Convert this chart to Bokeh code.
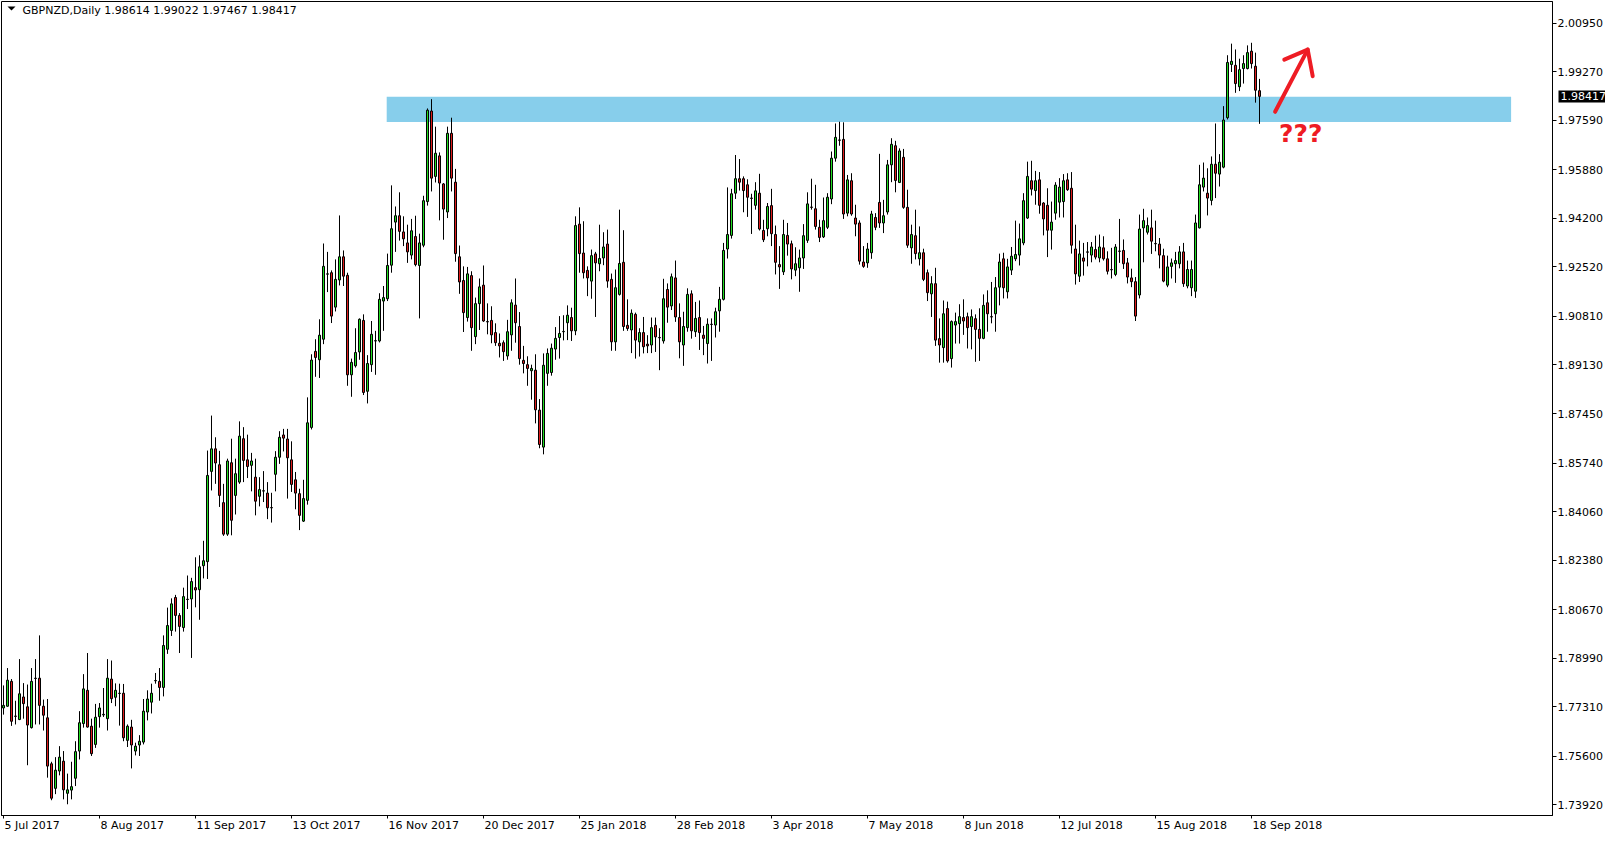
from bokeh.plotting import figure
from bokeh.models import (ColumnDataSource, Range1d, FixedTicker, PrintfTickFormatter,
                          Label, LinearAxis, PolyAnnotation)
from bokeh.core.properties import value
from bokeh.embed import file_html
from bokeh.resources import INLINE

symbol = "GBPNZD,Daily"

date_labels = ["5 Jul 2017", "8 Aug 2017", "11 Sep 2017", "13 Oct 2017", "16 Nov 2017",
               "20 Dec 2017", "25 Jan 2018", "28 Feb 2018", "3 Apr 2018", "7 May 2018",
               "8 Jun 2018", "12 Jul 2018", "15 Aug 2018", "18 Sep 2018"]
date_bars = [0, 24, 48, 72, 96, 120, 144, 168, 192, 216, 240, 264, 288, 312]

price_ticks = [2.00950, 1.99270, 1.97590, 1.95880, 1.94200, 1.92520, 1.90810, 1.89130,
               1.87450, 1.85740, 1.84060, 1.82380, 1.80670, 1.78990, 1.77310, 1.75600, 1.73920]

opens = [
    1.7727, 1.7733, 1.7819, 1.7699, 1.7687, 1.7765, 1.7731, 1.7659, 1.7830, 1.7830,
    1.7733, 1.7693, 1.7534, 1.7449, 1.7509, 1.7543, 1.7432, 1.7443, 1.7484, 1.7578,
    1.7673, 1.7788, 1.7664, 1.7601, 1.7697, 1.7703, 1.7690, 1.7827, 1.7764, 1.7777,
    1.7778, 1.7615, 1.7661, 1.7578, 1.7599, 1.7609, 1.7713, 1.7747, 1.7821, 1.7819,
    1.7798, 1.7930, 1.7995, 1.8109, 1.8047, 1.8005, 1.8103, 1.8104, 1.8143, 1.8136,
    1.8219, 1.8233, 1.8545, 1.8623, 1.8568, 1.8437, 1.8328, 1.8575, 1.8462, 1.8508,
    1.8658, 1.8585, 1.8566, 1.8525, 1.8459, 1.8478, 1.8470, 1.8420, 1.8535, 1.8594,
    1.8671, 1.8657, 1.8585, 1.8516, 1.8468, 1.8373, 1.8445, 1.8697, 1.8960, 1.8931,
    1.9002, 1.9227, 1.9232, 1.9113, 1.9207, 1.9287, 1.9223, 1.8879, 1.8910, 1.8958,
    1.9067, 1.8822, 1.8914, 1.8996, 1.8996, 1.9134, 1.9142, 1.9258, 1.9407, 1.9429,
    1.9373, 1.9335, 1.9293, 1.9357, 1.9257, 1.9327, 1.9478, 1.9791, 1.9565, 1.9636,
    1.9539, 1.9442, 1.9714, 1.9545, 1.9287, 1.9205, 1.9077, 1.9222, 1.9011, 1.9125,
    1.9189, 1.9063, 1.9067, 1.9025, 1.8988, 1.8990, 1.8944, 1.9017, 1.9120, 1.9046,
    1.8929, 1.8914, 1.8893, 1.8895, 1.8757, 1.8629, 1.8884, 1.8887, 1.8968, 1.9008,
    1.9028, 1.9059, 1.9077, 1.9031, 1.9400, 1.9300, 1.9240, 1.9203, 1.9297, 1.9263,
    1.9283, 1.9331, 1.9209, 1.8993, 1.9157, 1.9268, 1.9050, 1.9034, 1.9088, 1.8993,
    1.9025, 1.8985, 1.8982, 1.9050, 1.9008, 1.8996, 1.9174, 1.9117, 1.9214, 1.9077,
    1.8982, 1.9042, 1.9159, 1.9028, 1.9077, 1.9016, 1.8987, 1.9054, 1.9051, 1.9100,
    1.9140, 1.9314, 1.9361, 1.9507, 1.9557, 1.9557, 1.9536, 1.9490, 1.9465, 1.9507,
    1.9378, 1.9384, 1.9464, 1.9364, 1.9260, 1.9235, 1.9361, 1.9332, 1.9241, 1.9249,
    1.9283, 1.9344, 1.9459, 1.9453, 1.9389, 1.9356, 1.9389, 1.9487, 1.9628, 1.9691,
    1.9693, 1.9438, 1.9550, 1.9421, 1.9404, 1.9269, 1.9266, 1.9301, 1.9423, 1.9475,
    1.9404, 1.9442, 1.9605, 1.9671, 1.9544, 1.9631, 1.9458, 1.9318, 1.9360, 1.9280,
    1.9301, 1.9232, 1.9159, 1.9194, 1.9004, 1.8973, 1.9108, 1.8935, 1.9051, 1.9056,
    1.9077, 1.9080, 1.9046, 1.9073, 1.9036, 1.9005, 1.9128, 1.9080, 1.9090, 1.9182,
    1.9280, 1.9166, 1.9241, 1.9280, 1.9293, 1.9335, 1.9421, 1.9550, 1.9516, 1.9553,
    1.9473, 1.9465, 1.9379, 1.9438, 1.9476, 1.9478, 1.9553, 1.9524, 1.9314, 1.9220,
    1.9283, 1.9304, 1.9293, 1.9312, 1.9283, 1.9318, 1.9280, 1.9243, 1.9226, 1.9306,
    1.9309, 1.9266, 1.9214, 1.9201, 1.9155, 1.9387, 1.9372, 1.9387, 1.9333, 1.9331,
    1.9291, 1.9189, 1.9254, 1.9263, 1.9263, 1.9304, 1.9186, 1.9180, 1.9168, 1.9387,
    1.9528, 1.9507, 1.9482, 1.9607, 1.9573, 1.9597, 1.9768, 1.9952, 1.9949, 1.9875,
    1.9938, 1.9938, 1.9998, 1.9946, 1.98614]

highs = [
    1.7805, 1.7865, 1.7827, 1.7752, 1.7896, 1.7813, 1.7808, 1.7865, 1.7896, 1.7978,
    1.7756, 1.7758, 1.7541, 1.7557, 1.7595, 1.7578, 1.7500, 1.7541, 1.7612, 1.7716,
    1.7844, 1.7917, 1.7690, 1.7741, 1.7744, 1.7796, 1.7896, 1.7891, 1.7812, 1.7811,
    1.7810, 1.7670, 1.7686, 1.7607, 1.7633, 1.7758, 1.7788, 1.7811, 1.7848, 1.7865,
    1.7978, 1.8074, 1.8106, 1.8118, 1.8055, 1.8143, 1.8185, 1.8177, 1.8248, 1.8255,
    1.8305, 1.8617, 1.8738, 1.8663, 1.8616, 1.8502, 1.8589, 1.8658, 1.8589, 1.8718,
    1.8698, 1.8672, 1.8609, 1.8589, 1.8525, 1.8546, 1.8508, 1.8471, 1.8615, 1.8684,
    1.8692, 1.8692, 1.8649, 1.8543, 1.8485, 1.8516, 1.8801, 1.8950, 1.9002, 1.9071,
    1.9333, 1.9304, 1.9240, 1.9278, 1.9430, 1.9309, 1.9232, 1.8935, 1.9040, 1.9074,
    1.9088, 1.8947, 1.9065, 1.9031, 1.9161, 1.9186, 1.9298, 1.9534, 1.9461, 1.9510,
    1.9427, 1.9398, 1.9418, 1.9429, 1.9367, 1.9498, 1.9800, 1.9832, 1.9737, 1.9648,
    1.9542, 1.9737, 1.9768, 1.9591, 1.9326, 1.9254, 1.9252, 1.9237, 1.9146, 1.9212,
    1.9257, 1.9126, 1.9116, 1.9057, 1.9022, 1.8998, 1.9069, 1.9140, 1.9212, 1.9096,
    1.8979, 1.8943, 1.8914, 1.8950, 1.8795, 1.8953, 1.8970, 1.8987, 1.9044, 1.9082,
    1.9085, 1.9119, 1.9111, 1.9427, 1.9458, 1.9410, 1.9254, 1.9312, 1.9304, 1.9398,
    1.9372, 1.9381, 1.9229, 1.9243, 1.9450, 1.9379, 1.9140, 1.9105, 1.9094, 1.9040,
    1.9079, 1.9016, 1.9077, 1.9077, 1.9040, 1.9211, 1.9195, 1.9229, 1.9274, 1.9126,
    1.9097, 1.9178, 1.9171, 1.9131, 1.9136, 1.9048, 1.9074, 1.9074, 1.9111, 1.9183,
    1.9335, 1.9527, 1.9522, 1.9639, 1.9625, 1.9565, 1.9555, 1.9505, 1.9545, 1.9574,
    1.9415, 1.9473, 1.9522, 1.9395, 1.9324, 1.9415, 1.9404, 1.9343, 1.9320, 1.9312,
    1.9400, 1.9510, 1.9557, 1.9536, 1.9415, 1.9492, 1.9507, 1.9651, 1.9748, 1.9754,
    1.9752, 1.9570, 1.9576, 1.9467, 1.9413, 1.9324, 1.9335, 1.9446, 1.9438, 1.9643,
    1.9484, 1.9622, 1.9697, 1.9688, 1.9662, 1.9660, 1.9519, 1.9398, 1.9450, 1.9392,
    1.9315, 1.9243, 1.9220, 1.9249, 1.9074, 1.9136, 1.9132, 1.9067, 1.9094, 1.9123,
    1.9140, 1.9094, 1.9105, 1.9088, 1.9109, 1.9157, 1.9171, 1.9200, 1.9217, 1.9298,
    1.9301, 1.9280, 1.9321, 1.9412, 1.9402, 1.9507, 1.9616, 1.9619, 1.9584, 1.9580,
    1.9476, 1.9524, 1.9478, 1.9545, 1.9559, 1.9573, 1.9576, 1.9580, 1.9398, 1.9343,
    1.9335, 1.9338, 1.9338, 1.9360, 1.9364, 1.9358, 1.9306, 1.9318, 1.9331, 1.9418,
    1.9347, 1.9283, 1.9246, 1.9217, 1.9433, 1.9453, 1.9423, 1.9450, 1.9412, 1.9352,
    1.9315, 1.9291, 1.9281, 1.9304, 1.9324, 1.9335, 1.9274, 1.9274, 1.9433, 1.9605,
    1.9613, 1.9593, 1.9634, 1.9748, 1.9642, 1.9808, 1.9984, 2.0024, 2.0004, 1.9972,
    1.9984, 2.0018, 2.0027, 1.9993, 1.99022]

lows = [
    1.7704, 1.7731, 1.7665, 1.7670, 1.7685, 1.7690, 1.7529, 1.7656, 1.7670, 1.7670,
    1.7649, 1.7486, 1.7408, 1.7429, 1.7494, 1.7411, 1.7394, 1.7411, 1.7457, 1.7549,
    1.7659, 1.7659, 1.7561, 1.7589, 1.7659, 1.7696, 1.7649, 1.7744, 1.7733, 1.7666,
    1.7612, 1.7592, 1.7518, 1.7563, 1.7561, 1.7601, 1.7684, 1.7708, 1.7811, 1.7752,
    1.7767, 1.7914, 1.7976, 1.7991, 1.7917, 1.7991, 1.8069, 1.7900, 1.8075, 1.8032,
    1.8175, 1.8173, 1.8479, 1.8502, 1.8422, 1.8322, 1.8322, 1.8324, 1.8396, 1.8502,
    1.8508, 1.8522, 1.8476, 1.8393, 1.8424, 1.8439, 1.8380, 1.8368, 1.8476, 1.8571,
    1.8614, 1.8451, 1.8474, 1.8414, 1.8342, 1.8370, 1.8430, 1.8690, 1.8872, 1.8868,
    1.8985, 1.9165, 1.9058, 1.9098, 1.9188, 1.9186, 1.8841, 1.8803, 1.8904, 1.8931,
    1.8809, 1.8780, 1.8889, 1.8879, 1.8991, 1.9031, 1.9134, 1.9232, 1.9304, 1.9343,
    1.9324, 1.9266, 1.9278, 1.9254, 1.9074, 1.9320, 1.9464, 1.9513, 1.9544, 1.9413,
    1.9346, 1.9421, 1.9513, 1.9270, 1.9159, 1.9027, 1.9063, 1.8962, 1.8985, 1.9034,
    1.9062, 1.9019, 1.8988, 1.8979, 1.8939, 1.8927, 1.8931, 1.8962, 1.8990, 1.8914,
    1.8884, 1.8841, 1.8793, 1.8711, 1.8625, 1.8604, 1.8841, 1.8876, 1.8931, 1.8935,
    1.8998, 1.8999, 1.8996, 1.9016, 1.9232, 1.9212, 1.9151, 1.9142, 1.9079, 1.9237,
    1.9258, 1.9180, 1.8962, 1.8962, 1.9153, 1.9031, 1.9031, 1.8954, 1.8935, 1.8942,
    1.8953, 1.8954, 1.8954, 1.8958, 1.8895, 1.8987, 1.9059, 1.9103, 1.9062, 1.8936,
    1.8910, 1.9028, 1.9004, 1.9010, 1.8965, 1.8947, 1.8918, 1.8927, 1.9008, 1.9028,
    1.9136, 1.9281, 1.9350, 1.9487, 1.9516, 1.9441, 1.9425, 1.9366, 1.9450, 1.9378,
    1.9338, 1.9358, 1.9324, 1.9226, 1.9176, 1.9224, 1.9291, 1.9209, 1.9220, 1.9166,
    1.9245, 1.9335, 1.9450, 1.9381, 1.9338, 1.9352, 1.9383, 1.9469, 1.9616, 1.9671,
    1.9418, 1.9427, 1.9429, 1.9358, 1.9260, 1.9249, 1.9249, 1.9280, 1.9379, 1.9387,
    1.9369, 1.9433, 1.9545, 1.9510, 1.9542, 1.9453, 1.9318, 1.9263, 1.9278, 1.9257,
    1.9203, 1.9134, 1.9079, 1.8979, 1.8921, 1.8921, 1.8921, 1.8904, 1.8987, 1.8987,
    1.9017, 1.8970, 1.8967, 1.8924, 1.8927, 1.9002, 1.9028, 1.9057, 1.9028, 1.9119,
    1.9143, 1.9143, 1.9224, 1.9272, 1.9257, 1.9327, 1.9418, 1.9499, 1.9467, 1.9436,
    1.9361, 1.9286, 1.9312, 1.9415, 1.9423, 1.9423, 1.9515, 1.9298, 1.9191, 1.9200,
    1.9222, 1.9254, 1.9268, 1.9278, 1.9268, 1.9274, 1.9226, 1.9212, 1.9220, 1.9266,
    1.9245, 1.9195, 1.9182, 1.9065, 1.9143, 1.9268, 1.9364, 1.9297, 1.9306, 1.9247,
    1.9199, 1.9182, 1.9212, 1.9197, 1.9247, 1.9183, 1.9178, 1.9151, 1.9145, 1.9385,
    1.9513, 1.9430, 1.9465, 1.9490, 1.9530, 1.9593, 1.9762, 1.9926, 1.9854, 1.9860,
    1.9886, 1.9935, 1.9938, 1.9820, 1.97467]

closes = [
    1.7736, 1.7823, 1.7681, 1.7698, 1.7776, 1.7742, 1.7668, 1.7819, 1.7829, 1.7736,
    1.7702, 1.7526, 1.7415, 1.7512, 1.7557, 1.7444, 1.7444, 1.7455, 1.7576, 1.7676,
    1.7793, 1.7661, 1.7569, 1.7695, 1.7727, 1.7705, 1.7830, 1.7759, 1.7788, 1.7778,
    1.7624, 1.7664, 1.7599, 1.7595, 1.7612, 1.7716, 1.7758, 1.7778, 1.7822, 1.7798,
    1.7943, 1.8012, 1.8087, 1.8047, 1.8009, 1.8112, 1.8102, 1.8164, 1.8135, 1.8215,
    1.8236, 1.8531, 1.8623, 1.8574, 1.8462, 1.8328, 1.8581, 1.8376, 1.8537, 1.8667,
    1.8583, 1.8562, 1.8581, 1.8442, 1.8482, 1.8477, 1.8419, 1.8419, 1.8594, 1.8663,
    1.8660, 1.8592, 1.8500, 1.8470, 1.8393, 1.8451, 1.8713, 1.8930, 1.8939, 1.9016,
    1.9254, 1.9228, 1.9082, 1.9209, 1.9287, 1.9220, 1.8879, 1.8922, 1.8956, 1.9071,
    1.8818, 1.8918, 1.9019, 1.8997, 1.9140, 1.9146, 1.9257, 1.9384, 1.9429, 1.9375,
    1.9349, 1.9304, 1.9377, 1.9260, 1.9335, 1.9481, 1.9794, 1.9559, 1.9645, 1.9542,
    1.9452, 1.9714, 1.9559, 1.9298, 1.9200, 1.9094, 1.9228, 1.9042, 1.9125, 1.9183,
    1.9065, 1.9062, 1.9017, 1.8990, 1.8979, 1.8959, 1.9028, 1.9128, 1.9059, 1.8935,
    1.8918, 1.8901, 1.8901, 1.8758, 1.8638, 1.8912, 1.8953, 1.8971, 1.9005, 1.9022,
    1.9029, 1.9085, 1.9031, 1.9395, 1.9298, 1.9232, 1.9214, 1.9291, 1.9266, 1.9281,
    1.9321, 1.9203, 1.8993, 1.9180, 1.9264, 1.9046, 1.9039, 1.9092, 1.8999, 1.9025,
    1.8976, 1.8979, 1.9042, 1.9010, 1.9007, 1.9142, 1.9113, 1.9218, 1.9079, 1.8993,
    1.9046, 1.9157, 1.9031, 1.9074, 1.9025, 1.9005, 1.9054, 1.9053, 1.9097, 1.9140,
    1.9309, 1.9364, 1.9505, 1.9557, 1.9545, 1.9516, 1.9493, 1.9489, 1.9515, 1.9383,
    1.9346, 1.9461, 1.9367, 1.9268, 1.9252, 1.9364, 1.9331, 1.9245, 1.9263, 1.9283,
    1.9360, 1.9470, 1.9458, 1.9392, 1.9354, 1.9412, 1.9493, 1.9628, 1.9700, 1.9690,
    1.9435, 1.9553, 1.9435, 1.9400, 1.9272, 1.9254, 1.9314, 1.9435, 1.9389, 1.9404,
    1.9429, 1.9605, 1.9676, 1.9551, 1.9653, 1.9458, 1.9327, 1.9364, 1.9298, 1.9301,
    1.9209, 1.9163, 1.9194, 1.8999, 1.8982, 1.9090, 1.8927, 1.9063, 1.9063, 1.9080,
    1.9065, 1.9042, 1.9080, 1.9036, 1.9005, 1.9119, 1.9090, 1.9079, 1.9180, 1.9269,
    1.9180, 1.9252, 1.9289, 1.9295, 1.9349, 1.9481, 1.9565, 1.9521, 1.9550, 1.9465,
    1.9418, 1.9379, 1.9407, 1.9535, 1.9528, 1.9550, 1.9519, 1.9327, 1.9228, 1.9297,
    1.9272, 1.9303, 1.9321, 1.9286, 1.9321, 1.9280, 1.9237, 1.9242, 1.9321, 1.9307,
    1.9263, 1.9217, 1.9201, 1.9082, 1.9383, 1.9412, 1.9395, 1.9341, 1.9332, 1.9293,
    1.9203, 1.9252, 1.9266, 1.9274, 1.9304, 1.9194, 1.9243, 1.9243, 1.9404, 1.9536,
    1.9559, 1.9490, 1.9607, 1.9576, 1.9614, 1.9760, 1.9959, 1.9963, 1.9886, 1.9934,
    1.9955, 1.9993, 1.9955, 1.9863, 1.98417]

# resistance zone (bar index span, price span)
zone_bars = [95.8, 376.9]
zone_prices = [1.9753, 1.9840]

# hand-drawn arrow: shaft and head (bar index, price)
arrow_shaft_bars = [317.9, 326.05]
arrow_shaft_prices = [1.97884, 2.00034]
arrow_head_bars = [320.2, 326.05, 327.3]
arrow_head_prices = [1.99689, 2.00034, 1.99114]
question_bar = 318.9
question_price = 1.9712

BULL = "#22dd22"
BEAR = "#dd1c1c"
RED_MARK = "#ee1c24"
FONT = "DejaVu Sans"

W, H = 1605, 834
BORDER_TOP, BORDER_BOTTOM, BORDER_LEFT, BORDER_RIGHT = 1, 16, 1, 53
PX_PER_BAR = 4.0
PRICE_BOX_W = 50  # width of the current-price box panel on the right

# approximate advance widths (px) of DejaVu Sans at 11px, to left-align the date labels
CHAR_W = {" ": 3.5, ".": 3.5, "A": 7.52, "u": 6.97, "g": 6.98, "J": 3.24, "l": 3.06,
          "S": 6.98, "e": 6.77, "p": 6.98, "O": 8.66, "c": 6.05, "t": 4.31, "N": 8.23,
          "o": 6.73, "v": 6.51, "D": 8.47, "a": 6.74, "F": 6.33, "b": 6.98, "r": 4.52,
          "M": 9.49, "y": 6.51, "n": 6.97}


def text_width(s):
    return sum(CHAR_W.get(ch, 7.0) for ch in s)


n = len(opens)
src = ColumnDataSource(dict(
    x=list(range(n)), h=highs, l=lows,
    top=[max(a, b) for a, b in zip(opens, closes)],
    bot=[min(a, b) for a, b in zip(opens, closes)],
    color=[BULL if c > o else BEAR for o, c in zip(opens, closes)],
))

p = figure(width=W, height=H, output_backend="svg", toolbar_location=None,
           x_range=Range1d(-0.5, 387.25), y_range=Range1d(1.735519, 2.016976),
           y_axis_location="right", min_border_left=BORDER_LEFT, min_border_top=BORDER_TOP,
           min_border_right=BORDER_RIGHT, min_border_bottom=BORDER_BOTTOM)
p.grid.visible = False
p.outline_line_color = "black"
p.outline_line_width = 1
p.background_fill_color = "white"
p.border_fill_color = "white"

# right side: tick marks (adjacent to frame) ...
yax = p.yaxis[0]
yax.ticker = FixedTicker(ticks=price_ticks)
yax.major_tick_out = 4
yax.major_tick_in = 0
yax.minor_tick_line_color = None
yax.axis_line_color = "black"
yax.major_tick_line_color = "black"
yax.major_label_text_color = None
yax.major_label_standoff = 0

# ... current price box ...
last = closes[-1]
p.add_layout(Label(x=2, x_units="screen", y=last, y_units="data", text=f"{last:.5f}",
                   text_baseline="middle", text_align="left", text_font=FONT,
                   text_font_size="11px", text_color="white",
                   background_fill_color="black", padding=2), "right")

# ... and the price labels (pulled back over the price-box panel)
ylab = LinearAxis(ticker=FixedTicker(ticks=price_ticks),
                  formatter=PrintfTickFormatter(format="%.5f"))
ylab.axis_line_color = None
ylab.major_tick_line_color = None
ylab.minor_tick_line_color = None
ylab.major_tick_out = 0
ylab.major_tick_in = 0
ylab.major_label_standoff = -(PRICE_BOX_W - 2)
ylab.major_label_text_font = FONT
ylab.major_label_text_font_size = "11px"
ylab.major_label_text_color = "black"
p.add_layout(ylab, "right")

# bottom: tick marks at the date bars ...
xax = p.xaxis[0]
xax.ticker = FixedTicker(ticks=date_bars)
xax.major_tick_out = 3
xax.major_tick_in = 0
xax.minor_tick_line_color = None
xax.axis_line_color = "black"
xax.major_tick_line_color = "black"
xax.major_label_text_color = None
xax.major_label_standoff = 0

# ... and date labels placed so that they start just right of their tick
label_pos = [round(b + (1.0 + text_width(t) / 2) / PX_PER_BAR, 2)
             for b, t in zip(date_bars, date_labels)]
xlab = LinearAxis(ticker=FixedTicker(ticks=label_pos),
                  major_label_overrides={v: t for v, t in zip(label_pos, date_labels)})
xlab.axis_line_color = None
xlab.major_tick_line_color = None
xlab.minor_tick_line_color = None
xlab.major_tick_out = 0
xlab.major_tick_in = 0
xlab.major_label_standoff = 0
xlab.major_label_text_font = FONT
xlab.major_label_text_font_size = "11px"
xlab.major_label_text_color = "black"
p.add_layout(xlab, "below")

# zone behind candles
p.quad(left=[zone_bars[0]], right=[zone_bars[1]], bottom=[zone_prices[0]], top=[zone_prices[1]],
       fill_color="#87ceeb", line_color=None)

# candles
p.segment(x0="x", y0="l", x1="x", y1="h", source=src, line_color="black", line_width=1)
p.vbar(x="x", width=0.5, top="top", bottom="bot", source=src,
       fill_color="color", line_color="black", line_width=1)

# arrow and question marks
p.line(arrow_shaft_bars, arrow_shaft_prices, line_color=RED_MARK, line_width=4, line_cap="round")
p.line(arrow_head_bars, arrow_head_prices, line_color=RED_MARK, line_width=4,
       line_cap="round", line_join="round")
p.text(x=[question_bar], y=[question_price], text=["???"], text_color=RED_MARK,
       text_font=value(FONT), text_font_style="bold", text_font_size="25px",
       text_baseline="alphabetic", text_align="left")

# title inside the frame, top-left
frame_bottom = H - BORDER_BOTTOM
title_text = f"{symbol}  {opens[-1]:.5f} {highs[-1]:.5f} {lows[-1]:.5f} {closes[-1]:.5f}"
p.add_layout(Label(x=21, x_units="screen", y=frame_bottom - 13, y_units="screen",
                   text=title_text, text_baseline="middle", text_align="left",
                   text_font=FONT, text_font_size="11px", text_color="black"))
p.add_layout(PolyAnnotation(xs=[6, 14, 10],
                            ys=[frame_bottom - 9, frame_bottom - 9, frame_bottom - 13],
                            xs_units="screen", ys_units="screen",
                            fill_color="black", fill_alpha=1, line_color=None))

open("out.html", "w").write(file_html(p, INLINE))
